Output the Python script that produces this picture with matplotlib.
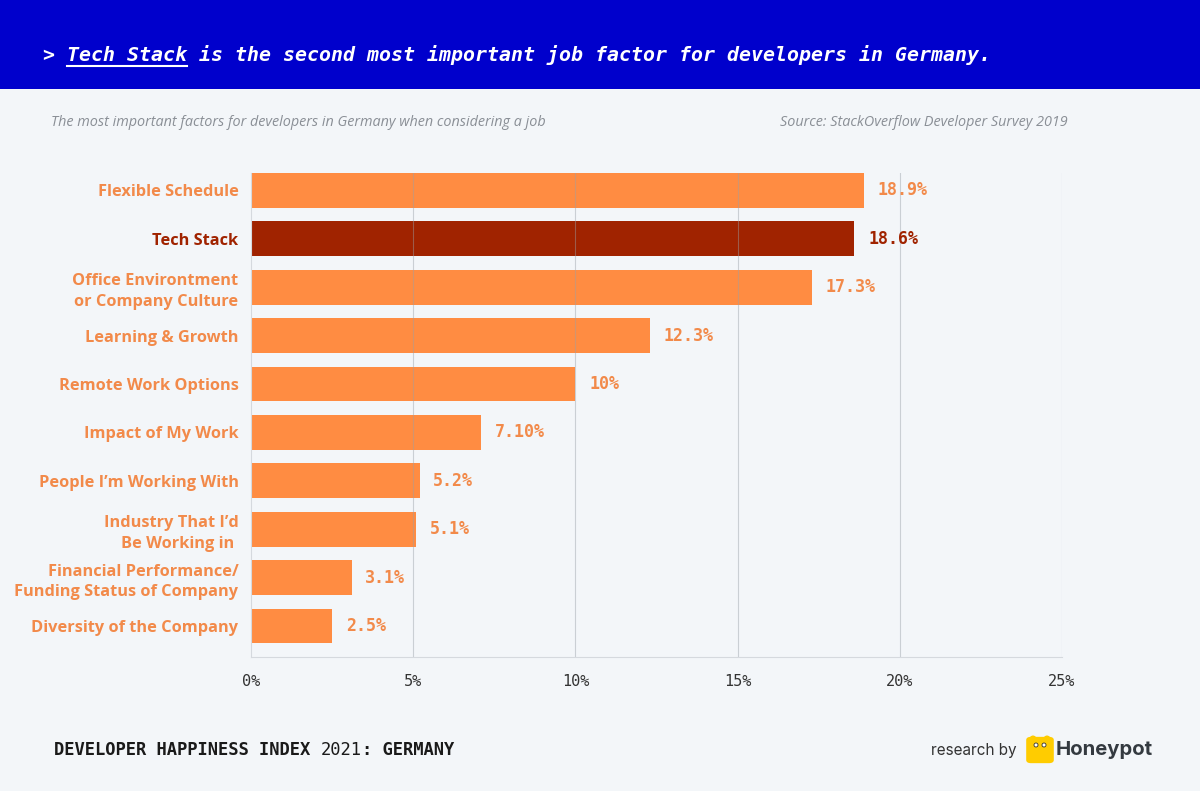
import matplotlib.pyplot as plt
from matplotlib.patches import Rectangle, FancyBboxPatch, Ellipse

categories = ["Flexible Schedule", "Tech Stack", "Office Environtment\nor Company Culture",
              "Learning & Growth", "Remote Work Options", "Impact of My Work",
              "People I\u2019m Working With", "Industry That I\u2019d\nBe Working in ",
              "Financial Performance/\nFunding Status of Company", "Diversity of the Company"]
values = [18.9, 18.6, 17.3, 12.3, 10, 7.1, 5.2, 5.1, 3.1, 2.5]
value_labels = ["18.9%", "18.6%", "17.3%", "12.3%", "10%", "7.10%", "5.2%", "5.1%", "3.1%", "2.5%"]
highlight = "Tech Stack"
xticks = [0, 5, 10, 15, 20, 25]

BG = "#f3f6f9"
BLUE = "#0000cc"
ORANGE = "#ff8c42"
DARK = "#a02300"
LABEL_ORANGE = "#f28a4a"

fig = plt.figure(figsize=(12, 7.91), dpi=100, facecolor=BG)

# header banner
fig.patches.append(Rectangle((0, 0.8875), 1, 0.1125, transform=fig.transFigure,
                             facecolor=BLUE, edgecolor="none", zorder=0))

ax = fig.add_axes([0.2092, 0.1694, 0.6758, 0.6119])
ax.set_facecolor(BG)

ypos = list(range(len(values)))
colors = [DARK if c == highlight else ORANGE for c in categories]
ax.barh(ypos, values, height=0.72, color=colors, zorder=1)

ax.set_xlim(0, 25)
ax.set_ylim(len(values) - 1 + 0.64, -0.36)
ax.set_xticks(xticks)
ax.set_xticklabels([f"{t}%" for t in xticks], family="DejaVu Sans Mono",
                   fontsize=11, color="#333333")
ax.tick_params(axis="x", length=0, pad=12)
ax.set_yticks(ypos)
ax.set_yticklabels(categories, family="Open Sans", fontweight="bold",
                   fontsize=11.8, linespacing=1.38)
for lbl, c in zip(ax.get_yticklabels(), categories):
    lbl.set_color(DARK if c == highlight else LABEL_ORANGE)
ax.tick_params(axis="y", length=0, pad=9)

for t in xticks[1:]:
    ax.axvline(t, color="#9aa0a8", lw=0.8, alpha=0.45, zorder=2)
for s in ["top", "right"]:
    ax.spines[s].set_visible(False)
ax.spines["bottom"].set_color("#d5d9de")
ax.spines["left"].set_color("#d5d9de")

for y, v, lab, c in zip(ypos, values, value_labels, categories):
    ax.text(v + 0.42, y, lab, va="center", ha="left", family="DejaVu Sans Mono",
            fontweight="bold", fontsize=12,
            color=DARK if c == highlight else LABEL_ORANGE, zorder=3)

# title with underlined part
tx, ty = 43 / 1200, 0.930
title_kw = dict(family="DejaVu Sans Mono", style="oblique", fontweight="bold",
                fontsize=14.3, color="white", va="center", ha="left")
fig.text(tx, ty, "> Tech Stack is the second most important job factor for developers in Germany.",
         **title_kw)
r = fig.canvas.get_renderer()
t1 = fig.text(tx, ty, "> ", alpha=0, **title_kw)
t2 = fig.text(tx, ty, "> Tech Stack", alpha=0, **title_kw)
x0 = t1.get_window_extent(r).x1 / 1200
x1 = t2.get_window_extent(r).x1 / 1200
fig.add_artist(plt.Line2D([x0, x1], [1 - 66 / 791] * 2, color="white", lw=1.5,
                          transform=fig.transFigure))

fig.text(51 / 1200, 1 - 122 / 791,
         "The most important factors for developers in Germany when considering a job",
         family="Open Sans", style="italic", fontsize=10.4, color="#8a8f96", va="center")
fig.text(1068 / 1200, 1 - 122 / 791, "Source: StackOverflow Developer Survey 2019",
         family="Open Sans", style="italic", fontsize=10.4, color="#8a8f96", va="center", ha="right")

# footer
fx = 54 / 1200
fy = 1 - 750 / 791
foot_kw = dict(family="DejaVu Sans Mono", fontsize=12.3, color="#1a1a1a", va="center", ha="left")
fa = fig.text(fx, fy, "DEVELOPER HAPPINESS INDEX ", fontweight="bold", **foot_kw)
xa = fa.get_window_extent(r).x1 / 1200
fb = fig.text(xa, fy, "2021", **foot_kw)
xb = fb.get_window_extent(r).x1 / 1200
fig.text(xb, fy, ": GERMANY", fontweight="bold", **foot_kw)

fig.text(1017 / 1200, fy, "research by", family="Inter", fontsize=11, color="#333333",
         va="center", ha="right")
fig.patches.append(FancyBboxPatch((1031 / 1200, 1 - 760 / 791), 18 / 1200, 20 / 791,
                                  boxstyle="round,pad=0.004", transform=fig.transFigure,
                                  facecolor="#ffcc00", edgecolor="none"))
fig.patches.append(Ellipse((1033 / 1200, 1 - 739 / 791), 7 / 1200, 7 / 791,
                           transform=fig.transFigure, facecolor="#ffcc00", edgecolor="none"))
fig.patches.append(Ellipse((1047 / 1200, 1 - 739 / 791), 7 / 1200, 7 / 791,
                           transform=fig.transFigure, facecolor="#ffcc00", edgecolor="none"))
for ex in (1036, 1044):
    fig.patches.append(Ellipse((ex / 1200, 1 - 745 / 791), 4 / 1200, 4 / 791,
                               transform=fig.transFigure, facecolor="white", edgecolor="#333333",
                               lw=0.6))
fig.text(1056 / 1200, fy, "Honeypot", family="Inter", fontweight="bold", fontsize=14.6,
         color="#343a40", va="center", ha="left")

fig.savefig("out.png", dpi=100, facecolor=BG)
